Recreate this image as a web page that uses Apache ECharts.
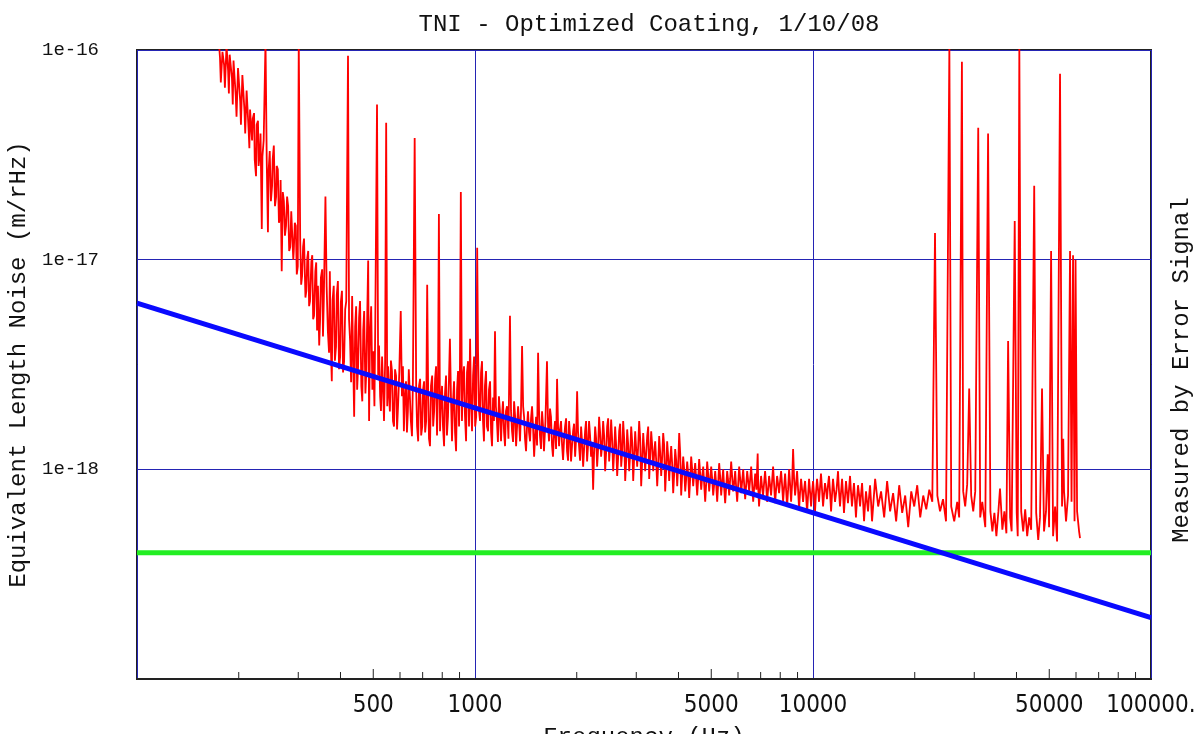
<!DOCTYPE html>
<html>
<head>
<meta charset="utf-8">
<script src="https://cdn.jsdelivr.net/npm/echarts@6/dist/echarts.min.js"></script>
<style>
  html, body { margin: 0; padding: 0; background: #fff; }
  #chart { width: 1199px; height: 734px; }
</style>
</head>
<body>
<div id="chart"></div>
<script>
// measured noise, [frequency Hz, amplitude in 1e-18 m/rHz]
const noise = [
  [174,120],[176,92],[177,70],[179,98],[181,85],[182,66],[184,105],[186,80],[187,62],[188,95],[191,73],[192,55],[193,89],[196,60],[197,48],[199,82],[202,57],[203,44],[205,76],[208,51],[209,40],[211,64],[214,41],[215,34],[216,52],
  [219,37],[220,47],[222,50],[223,30],[225,25],[226,44],[228,46],[229,28],[231,33],[232,40],[234,14],[235,31],[237,37],[240,110],[242,29.6],[244,13.5],[245,26],[247,33],[249,19],[251,22.5],[252,30],[254,35],[256,18],[258,20],[259,28],[261,27],[263,15],[265,16],[266,24],[268,8.8],[270,21],[272,19],[274,13],[276,14.5],[278,20],[280,18],[282,11],[284,11.5],[286,17],[288,16.7],[290,10],[291,11],[293,15],[295,14.5],[297,8.5],[299,9.3],[301,110],[304,12.3],[306,7.6],[308,8.4],[310,11.5],[312,12.6],[315,6.6],[317,7.1],[319,10.2],[321,11],[323,6.0],[325,6.35],[328,9.8],[330,10.5],[332,5.2],[334,5.4],[337,8.8],[339,9.7],[341,4.6],[343,7.5],[346,3.9],[348,5.1],[350,8.2],[353,9],[355,4.3],[357,6.35],[361,20],[364,7.4],[367,4.56],[370,3.6],[372,8.8],[374,4.2],[377,2.63],[379,6.4],[382,7.5],[385,3.3],[388,3.85],[390,6.8],[393,7.9],[396,3.0],[399,3.45],[401,6.3],[404,7.1],[407,2.9],[410,3.28],[413,5.8],[416,6.35],[421,94],[424,5.2],[427,4.09],[430,2.6],[433,6.7],[436,3.4],[439,1.78],[442,4.8],[445,6.0],[448,2.4],[451,3.1],[454,5.3],[457,6.35],[461,2.5],[464,2.11],[467,4.6],[470,5.69],[474,2.3],[477,2.94],[480,5.5],[483,9.9],[486,1.70],[489,4.3],[493,6.0],[497,2.4],[500,3.66],[504,2.0],[507,5.09],[513,55],[517,2.8],[520,3.9],[524,2.23],[527,1.9],[531,3.45],[534,2.6],[538,1.70],[542,3.2],[546,45],[550,2.0],[553,3.1],[556,2.4],[560,1.89],[564,3.3],[568,2.94],[572,1.7],[576,1.6],[580,3.0],[584,2.8],[588,1.55],[592,2.0],[597,2.9],[603,5.69],[608,2.23],[612,3.1],[616,1.52],[620,2.2],[625,2.63],[629,1.5],[633,1.89],[637,3.0],[642,2.94],[646,1.7],[651,1.44],[655,2.6],[663,38],[670,2.36],[674,1.6],[679,1.36],[683,2.5],[688,2.7],[693,1.45],[698,1.6],[702,2.4],[707,2.63],[712,1.5],[717,1.70],[722,7.6],[727,2.23],[731,1.4],[736,1.29],[741,2.5],[747,2.8],[752,1.6],[757,1.89],[762,2.7],[767,3.1],[772,1.45],[777,2.3],[782,16.5],[788,1.52],[793,2.1],[799,2.5],[804,1.6],[810,1.29],[815,2.3],[821,2.8],[826,1.45],[832,1.79],[837,2.6],[843,4.2],[849,2.2],[855,1.36],[861,2.1],[867,2.63],[873,1.5],[879,1.22],[885,2.4],[891,2.94],[897,1.6],[902,2.6],[908,21],[915,1.70],[921,2.7],[928,3.1],[934,1.8],[941,1.36],[947,2.9],[954,3.28],[960,1.6],[967,4.2],[973,2.1],[980,1.52],[987,2.8],[994,3.45],
  [1001,1.6],[1008,1.78],[1015,11.4],[1021,3.66],[1028,1.9],[1035,1.70],[1042,2.9],[1049,3.28],[1056,1.7],[1063,1.36],[1070,2.5],[1078,2.94],[1085,1.6],[1093,1.52],[1100,2.4],[1108,2.63],[1116,1.5],[1123,1.29],[1131,2.2],[1138,1.7],[1146,4.56],[1153,2.0],[1161,1.70],[1169,1.35],[1177,2.23],[1185,1.9],[1194,1.36],[1202,1.8],[1210,2.11],[1219,1.5],[1227,1.29],[1235,1.9],[1244,2.0],[1256,1.4],[1269,5.4],[1278,1.9],[1287,1.52],[1296,1.35],[1305,2.11],[1314,1.8],[1323,1.29],[1332,1.6],[1341,2.0],[1350,1.7],[1359,1.36],[1368,1.9],[1378,3.87],[1388,2.0],[1397,1.78],[1406,1.4],[1416,1.22],[1425,1.6],[1435,1.89],[1445,1.5],[1455,1.36],[1465,1.75],[1475,2.0],[1485,1.6],[1496,1.15],[1506,1.45],[1516,1.78],[1526,1.3],[1537,3.6],[1547,1.9],[1557,1.44],[1568,1.25],[1579,1.89],[1590,1.6],[1600,1.22],[1616,1.7],[1633,3.28],[1645,1.6],[1656,1.36],[1667,1.95],[1678,1.78],[1690,1.3],[1701,1.15],[1713,1.5],[1725,1.70],[1737,1.25],[1749,2.7],[1761,1.6],[1773,1.29],[1785,1.55],[1797,1.70],[1810,1.3],[1822,1.11],[1835,1.4],[1847,1.60],[1860,1.75],[1872,1.22],[1885,1.1],[1898,1.70],[1911,1.45],[1924,1.09],[1937,1.3],[1951,1.52],[1964,1.65],[1978,1.15],[1991,1.4],
  [2005,2.36],[2018,1.5],[2032,1.29],[2046,1.1],[2060,1.60],[2074,1.35],[2089,1.03],[2103,1.25],[2117,1.52],[2131,1.7],[2146,1.09],[2160,1.3],[2175,1.70],[2190,1.45],[2205,1.15],[2220,1.35],[2236,0.80],[2251,1.2],[2267,1.60],[2282,1.4],[2298,1.03],[2313,1.25],[2329,1.78],[2345,1.5],[2361,1.15],[2377,1.3],[2394,1.70],[2410,1.45],[2427,0.98],[2443,1.2],[2460,1.60],[2477,1.75],[2494,1.09],[2511,1.3],[2528,1.73],[2545,1.4],[2563,0.98],[2580,1.2],[2598,1.60],[2616,1.3],[2634,0.93],[2652,1.15],[2670,1.52],[2688,1.65],[2707,1.03],[2725,1.2],[2744,1.70],[2763,1.4],[2782,0.88],[2801,1.1],[2820,1.55],[2840,1.3],[2859,0.98],[2879,1.2],[2898,1.60],[2918,1.35],[2938,0.88],[2958,1.15],[2978,1.52],[2998,1.25],
  [3019,1.03],[3040,1.3],[3060,1.70],[3081,1.4],[3102,0.83],[3124,1.1],[3145,1.49],[3166,1.25],[3188,0.98],[3210,1.2],[3232,1.44],[3254,1.6],[3276,0.90],[3298,1.15],[3321,1.52],[3344,1.3],[3367,0.98],[3390,1.2],[3413,1.36],[3436,1.1],[3460,0.83],[3483,1.05],[3507,1.44],[3531,1.2],[3555,0.93],[3580,1.15],[3604,1.49],[3628,1.3],[3653,0.785],[3678,1.0],[3703,1.36],[3728,1.15],[3754,0.88],[3780,1.1],[3806,1.29],[3832,1.05],[3858,0.77],[3884,0.95],[3911,1.25],[3938,1.1],[3965,0.83],[3992,1.05],
  [4019,1.49],[4046,1.2],[4074,0.75],[4102,0.95],[4130,1.15],[4158,1.0],[4187,0.785],[4215,0.9],[4244,1.09],[4273,0.95],[4302,0.73],[4331,0.9],[4361,1.15],[4391,1.0],[4421,0.83],[4451,0.95],[4482,1.07],[4512,0.9],[4543,0.75],[4574,0.9],[4605,1.12],[4637,0.95],[4669,0.80],[4701,0.92],[4733,1.03],[4765,0.85],[4798,0.70],[4830,0.85],[4863,1.09],[4896,0.95],[4930,0.785],[4964,0.9],[4998,1.03],[5032,0.9],
  [5066,0.75],[5101,0.85],[5136,0.98],[5171,0.85],[5206,0.70],[5241,0.85],[5277,1.07],[5313,0.92],[5350,0.75],[5386,0.88],[5423,1.0],[5460,0.82],[5497,0.69],[5535,0.82],[5573,0.98],[5611,0.88],[5649,0.75],[5688,0.9],[5727,1.09],[5766,0.92],[5805,0.785],[5845,0.86],[5885,0.98],[5925,0.82],[5966,0.70],[6007,0.85],[6048,1.03],[6089,0.9],[6131,0.77],[6173,0.88],[6215,1.0],[6257,0.85],[6300,0.72],[6343,0.84],[6387,0.98],[6430,0.88],[6474,0.785],[6518,0.9],[6563,1.03],[6608,0.85],[6653,0.70],[6699,0.82],[6745,0.955],[6800,0.8],[6860,1.19],[6890,0.8],[6925,0.665],[6973,0.8],
  [7021,0.93],[7069,0.82],[7117,0.75],[7166,0.86],[7215,0.98],[7264,0.85],[7314,0.70],[7364,0.8],[7415,0.93],[7465,0.84],[7516,0.75],[7568,0.88],[7620,1.03],[7672,0.85],[7724,0.69],[7777,0.8],[7830,0.93],[7884,0.85],[7938,0.77],[7992,0.88],[8047,0.98],[8102,0.84],[8157,0.70],[8213,0.82],[8269,0.955],[8325,0.8],[8382,0.665],[8439,0.8],[8497,1.0],[8555,0.85],[8614,0.70],[8673,0.85],[8732,1.25],[8792,0.9],[8852,0.75],[8912,0.85],[8973,0.98],[9034,0.8],[9096,0.645],[9158,0.78],[9220,0.90],[9283,0.8],[9347,0.70],[9411,0.8],[9475,0.88],[9540,0.75],[9605,0.62],[9670,0.75],[9736,0.90],[9803,0.78],[9870,0.665],[9937,0.78],
  [10005,0.88],[10072,0.76],[10140,0.63],[10210,0.78],[10280,0.90],[10350,0.8],[10420,0.70],[10490,0.82],[10560,0.955],[10635,0.8],[10710,0.665],[10780,0.76],[10850,0.86],[10925,0.8],[11000,0.72],[11075,0.84],[11150,0.93],[11230,0.78],[11310,0.63],[11385,0.76],[11460,0.90],[11540,0.8],[11620,0.70],[11740,0.8],[11860,0.98],[11940,0.78],[12020,0.665],[12105,0.78],[12190,0.90],[12270,0.76],[12350,0.62],[12435,0.74],[12520,0.88],[12605,0.78],[12690,0.69],[12780,0.8],[12870,0.93],[12955,0.78],[13040,0.665],[13130,0.76],[13220,0.86],[13310,0.72],[13400,0.59],[13495,0.72],[13590,0.84],[13685,0.76],[13780,0.665],[13875,0.76],[13970,0.86],[14065,0.7],[14160,0.565],[14255,0.68],[14350,0.785],[14450,0.7],[14550,0.63],[14650,0.74],[14750,0.84],[14850,0.7],[14950,0.565],
  [15270,0.90],[15590,0.665],[15900,0.785],[16240,0.59],[16570,0.88],[16910,0.63],[17260,0.77],[17620,0.565],[17990,0.84],[18360,0.62],[18740,0.75],[19130,0.53],[19530,0.785],[19930,0.665],[20340,0.84],[20760,0.59],[21190,0.75],[21630,0.645],[22080,0.80],[22540,0.70],[22960,13.4],[23330,0.75],[23760,0.63],[24250,0.72],[24750,0.565],
  [25320,105],[25640,0.665],[26170,0.565],[26710,0.70],[27070,0.59],[27580,88],[27820,0.785],[28200,0.665],[28590,0.85],[28980,2.43],[29380,0.75],[29790,0.63],[30200,0.785],[30820,42.6],[31240,0.59],[31680,0.70],[32340,0.53],[32960,40],[33480,0.63],[33940,0.506],[34410,0.62],[34880,0.48],[35360,0.63],[35750,0.81],[36330,0.515],[36830,0.63],[37340,0.495],[37780,4.09],[38300,0.59],[38700,0.506],[39520,15.3],[40060,0.62],[40340,0.48],[40780,105],
  [41300,0.63],[41870,0.506],[42440,0.645],[43020,0.48],[43610,0.59],[44210,0.515],[45130,22.5],[45740,0.62],[46380,0.46],[46950,0.59],[47600,2.43],[48250,0.506],[48910,0.63],[49480,1.18],[49940,0.53],[50630,11],[51320,0.48],[52030,0.665],[52740,0.453],[53810,77],[54550,0.665],[55000,1.4],[55300,0.785],[56060,0.565],[56830,0.75],[57610,11],[58200,0.70],[58800,10.5],[59400,0.565],[59810,10],[60440,0.63],[61270,0.506],[61660,0.47]
];
const ampUnit = 1e-18;

// thermal noise model and target level, same units
const thermalHz = [100, 100000];
const thermalAmp = [6.2, 0.196];
const targetHz = [100, 100000];
const targetAmp = [0.4, 0.4];

// bottom axis ticks and labels
const tickHz = [200, 300, 400, 500, 600, 700, 800, 900,
  2000, 3000, 4000, 5000, 6000, 7000, 8000, 9000,
  20000, 30000, 40000, 50000, 60000, 70000, 80000, 90000];
const labelHz = [500, 1000, 5000, 10000, 50000, 100000];
const labelText = ['500', '1000', '5000', '10000', '50000', '100000.'];

const yMin = 1e-19, yMax = 1e-16;
const mono = '"Liberation Mono", "DejaVu Sans Mono", monospace';
const narrow = '"DejaVu Sans Condensed", "Liberation Sans Narrow", "DejaVu Sans", sans-serif';
const gridBlue = '#2424b4';

const chart = echarts.init(document.getElementById('chart'));
chart.setOption({
  animation: false,
  backgroundColor: '#fff',
  title: {
    text: 'TNI - Optimized Coating, 1/10/08',
    left: 644,
    textAlign: 'center',
    top: 8,
    textStyle: { fontFamily: mono, fontSize: 24, fontWeight: 'normal', color: '#111' }
  },
  grid: {
    left: 137, right: 48, top: 50, bottom: 55,
    outerBoundsMode: 'none',
    containLabel: false,
    show: true, borderColor: '#222', borderWidth: 2, backgroundColor: '#fff'
  },
  xAxis: {
    type: 'log',
    logBase: 10,
    min: 100,
    max: 100000,
    axisLine: { show: true, onZero: false, lineStyle: { color: '#222', width: 2 } },
    axisTick: { show: false },
    axisLabel: { show: false },
    splitLine: { show: true, lineStyle: { color: gridBlue, width: 1 } },
    name: 'Frequency (Hz)',
    nameLocation: 'middle',
    nameGap: 47,
    nameTextStyle: { fontFamily: mono, fontSize: 24, color: '#111' }
  },
  yAxis: {
    type: 'log',
    logBase: 10,
    min: yMin,
    max: yMax,
    axisLine: { show: false },
    axisTick: { show: false },
    axisLabel: {
      margin: 38,
      fontFamily: mono,
      fontSize: 19,
      color: '#111',
      formatter: function (v) {
        const e = Math.round(Math.log10(v));
        return e <= -19 ? '' : '1e' + e;
      }
    },
    splitLine: { show: true, lineStyle: { color: gridBlue, width: 1 } },
    name: 'Equivalent Length Noise (m/rHz)',
    nameLocation: 'middle',
    nameRotate: 90,
    nameGap: 103,
    nameTextStyle: { fontFamily: mono, fontSize: 24, color: '#111' }
  },
  graphic: [{
    type: 'text',
    x: 1182,
    y: 370,
    rotation: Math.PI / 2,
    style: {
      text: 'Measured by Error Signal',
      font: '24px ' + mono,
      fill: '#111',
      align: 'center',
      verticalAlign: 'middle'
    }
  }],
  series: [
    {
      name: 'noise',
      type: 'line',
      data: noise.map(function (p) { return [p[0], p[1] * ampUnit]; }),
      showSymbol: false,
      symbol: 'none',
      clip: true,
      lineStyle: { color: '#ff0000', width: 1.8 },
      z: 2
    },
    {
      name: 'target',
      type: 'line',
      data: targetHz.map(function (f, i) { return [f, targetAmp[i] * ampUnit]; }),
      symbol: 'none',
      lineStyle: { color: '#22ee22', width: 5 },
      z: 3
    },
    {
      name: 'thermal',
      type: 'line',
      data: thermalHz.map(function (f, i) { return [f, thermalAmp[i] * ampUnit]; }),
      symbol: 'none',
      lineStyle: { color: '#0a0aff', width: 5 },
      z: 4
    },
    {
      name: 'ticks',
      type: 'custom',
      clip: false,
      silent: true,
      data: tickHz.map(function (f) { return [f, yMin]; }),
      renderItem: function (params, api) {
        const f = api.value(0);
        const p = api.coord([f, yMin]);
        const mant = Math.round(f / Math.pow(10, Math.floor(Math.log10(f) + 1e-9)));
        const len = mant === 5 ? 10 : 7;
        return {
          type: 'line',
          shape: { x1: p[0], y1: p[1], x2: p[0], y2: p[1] - len },
          style: { stroke: '#222', lineWidth: 1 }
        };
      },
      z: 5
    },
    {
      name: 'labels',
      type: 'custom',
      clip: false,
      silent: true,
      data: labelHz.map(function (f) { return [f, yMin]; }),
      renderItem: function (params, api) {
        const p = api.coord([api.value(0), yMin]);
        return {
          type: 'text',
          x: p[0],
          y: p[1] + 27,
          style: {
            text: labelText[params.dataIndex],
            font: '24px ' + narrow,
            fill: '#111',
            align: 'center',
            verticalAlign: 'middle'
          }
        };
      },
      z: 5
    }
  ]
});
</script>
</body>
</html>
